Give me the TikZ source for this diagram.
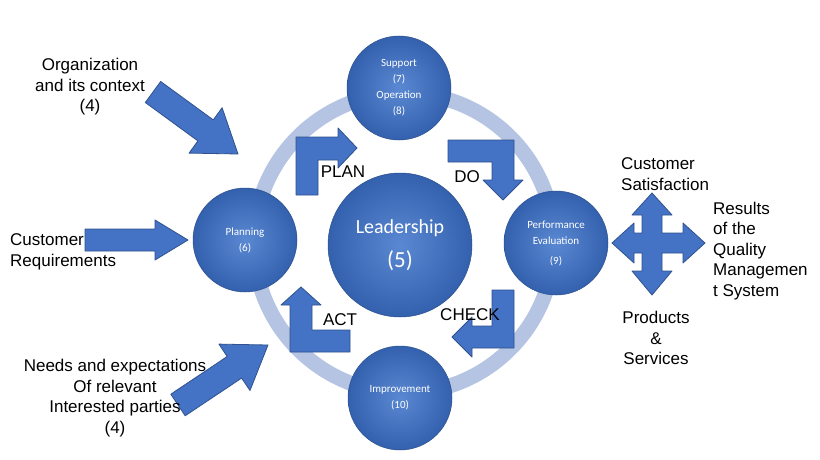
\documentclass[tikz,border=0pt]{standalone}
\usepackage{fontspec}
\setmainfont{Liberation Sans}
\newfontfamily\carfont{Carlito}
\begin{document}
\begin{tikzpicture}[x=1pt,y=-1pt,
  blk/.style={fill=arrblue,draw=arrline,line width=0.8pt,line join=round},
  circ/.style={circle,inner color=cin,outer color=cout,draw=cout!80!black,line width=0.5pt,text=white,align=center,font=\carfont\fontsize{11}{16}\selectfont,inner sep=0pt},
  lab/.style={font=\fontsize{17}{20.5}\selectfont,align=center,inner sep=0pt}]
\definecolor{arrblue}{HTML}{4472C4}
\definecolor{arrline}{HTML}{2F528F}
\definecolor{cin}{HTML}{5A88D2}
\definecolor{cout}{HTML}{3461AE}
\definecolor{ring}{HTML}{B4C4E2}
\useasboundingbox (0,0) rectangle (820,460);
\fill[white] (0,0) rectangle (820,460);
\draw[ring,line width=15pt] (404,243) circle (150);
% circles
\node[circ,minimum size=104] (sup) at (399,88) {Support\\(7)\\Operation\\(8)};
\node[circ,minimum size=104] (pla) at (245,240) {Planning\\(6)};
\node[circ,minimum size=104] (per) at (556,243) {Performance\\Evaluation\\[4pt](9)};
\node[circ,minimum size=104] (imp) at (400,398) {Improvement\\(10)};
\node[circ,minimum size=144,font=\carfont\fontsize{20}{34}\selectfont] (lea) at (400,245) {Leadership\\{\fontsize{23}{26}\selectfont(5)}};
% cycle arrows
\draw[blk] (296,195)--(296,137)--(338,137)--(338,128)--(357,148)--(338,168)--(338,160)--(318,160)--(318,195)--cycle;
\draw[blk] (448,140)--(514,140)--(514,180)--(523,180)--(503,200)--(483,180)--(492,180)--(492,162)--(448,162)--cycle;
\draw[blk] (492,290)--(514,290)--(514,348)--(472,348)--(472,357)--(452,337)--(472,317)--(472,326)--(492,326)--cycle;
\draw[blk] (350,330)--(350,352)--(290,352)--(290,305)--(281,305)--(301,287)--(321,305)--(312,305)--(312,330)--cycle;
% input arrows
\draw[blk] (145.3,102.5)--(197.9,140.9)--(189.1,153.1)--(238,154)--(222.1,107.7)--(213.3,119.9)--(160.7,81.5)--cycle;
\draw[blk] (85,229)--(155,229)--(155,220)--(188,240)--(155,260)--(155,251)--(85,251)--cycle;
\draw[blk] (185.2,415.8)--(241.6,378.1)--(250,390.5)--(268,345)--(218.9,344.1)--(227.2,356.5)--(170.8,394.2)--cycle;
% quad arrow
\draw[blk] (612,243)--(634,223)--(634,233)--(642,233)--(642,215)--(632,215)--(652,193)--(672,215)--(662,215)--(662,233)--(683,233)--(683,223)--(705,243)--(683,263)--(683,253)--(662,253)--(662,271)--(672,271)--(652,295)--(632,271)--(642,271)--(642,253)--(634,253)--(634,263)--cycle;
% labels
\node[lab] (plan) at (343,172) {PLAN};
\node[lab] (do) at (467,177) {DO};
\node[lab] (check) at (470,315) {CHECK};
\node[lab] (act) at (340,320) {ACT};
\node[lab] (org) at (90,87) {Organization\\and its context\\(4)};
\node[lab,align=left,anchor=west] (cr) at (10,252) {Customer\\Requirements};
\node[lab] (need) at (115,398) {Needs and expectations\\Of relevant\\Interested parties\\(4)};
\node[lab,align=left,anchor=west] (cs) at (621,174) {Customer\\Satisfaction};
\node[lab,align=left,anchor=west] (res) at (713,251) {Results\\of the\\Quality\\Managemen\\t System};
\node[lab] (ps) at (656,338) {Products\\\&\\Services};
\end{tikzpicture}
\end{document}
